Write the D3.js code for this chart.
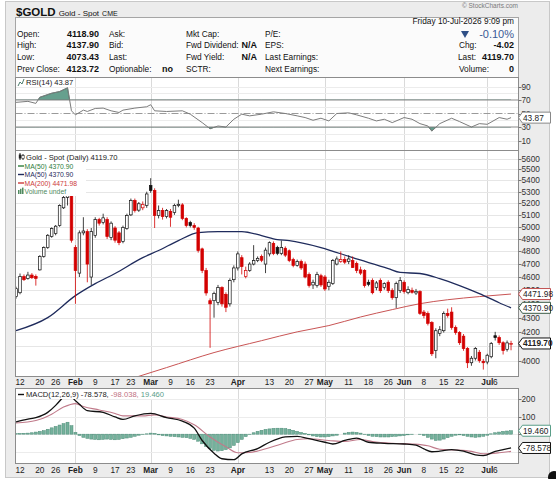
<!doctype html>
<html>
<head>
<meta charset="UTF-8">
<title>$GOLD Gold - Spot</title>
<script src="https://d3js.org/d3.v7.min.js"></script>
<style>
  body { margin: 0; background: #fff; }
  svg text { font-family: "Liberation Sans", Arial, sans-serif; }
</style>
</head>
<body>
<div id="chart"></div>
<script>
// ---- data ----
var firstDay = "2026-01-09", lastDay = "2026-07-10";
var holidays = ["2026-01-19", "2026-02-16", "2026-05-25", "2026-06-19", "2026-07-03"];

var opens = [4453,4482,4603,4590,4615,4605,4655,4760,4830,4920,
  4945,5010,5160,5250,5300,4830,4630,4950,4960,4600,
  4928,5060,5035,5060,4912,4990,4950,4880,4985,5100,
  5223,5140,5160,5180,5355,5311,5094,5137,5085,5130,
  5120,5180,5185,5070,5035,5010,4990,4820,4650,4423,
  4423,4410,4520,4470,4400,4580,4670,4750,4605,4650,
  4700,4727,4760,4700,4780,4863,4830,4783,4825,4805,
  4735,4690,4720,4700,4620,4540,4535,4610,4600,4530,
  4550,4700,4720,4735,4720,4727,4704,4655,4650,4560,
  4573,4520,4573,4520,4560,4500,4445,4497,4560,4482,
  4500,4480,4490,4340,4330,4265,4071,4190,4208,4330,
  4340,4230,4195,4170,4085,3990,4020,4060,4000,3995,
  4030,4173,4160,4125,4080,4118.9];
var highs = [4527,4627,4620,4640,4630,4620,4770,4840,4940,4995,
  5015,5190,5300,5590,5340,4850,4970,5080,4980,4990,
  5080,5075,5110,5080,5045,5005,4965,5010,5110,5240,
  5240,5210,5215,5300,5420,5330,5180,5160,5150,5150,
  5195,5230,5200,5080,5050,5030,5000,4830,4670,4440,
  4490,4540,4530,4485,4590,4690,4800,4770,4680,4715,
  4850,4760,4775,4830,4880,4880,4845,4887,4840,4815,
  4750,4735,4735,4720,4635,4580,4640,4625,4615,4580,
  4740,4760,4800,4760,4770,4760,4720,4680,4660,4580,
  4590,4570,4590,4560,4575,4515,4565,4600,4575,4530,
  4520,4510,4500,4355,4345,4275,4225,4240,4345,4365,
  4375,4245,4205,4185,4095,4035,4095,4075,4015,4050,
  4130,4200,4175,4135,4140,4137.9];
var lows = [4438,4470,4570,4580,4585,4535,4650,4750,4820,4910,
  4930,5000,5150,5180,4870,4400,4600,4930,4560,4540,
  4910,5010,5020,4900,4890,4870,4850,4865,4975,5090,
  5120,5125,5140,5160,5290,4990,5070,5060,5070,5000,
  5100,5165,5055,4995,4995,4975,4790,4630,4460,4090,
  4300,4390,4380,4340,4380,4560,4650,4620,4590,4640,
  4690,4715,4715,4630,4760,4770,4770,4770,4755,4715,
  4675,4680,4655,4590,4520,4510,4520,4525,4495,4500,
  4540,4690,4710,4700,4700,4670,4630,4615,4520,4530,
  4470,4500,4480,4505,4480,4430,4370,4480,4475,4470,
  4475,4465,4320,4295,4245,4035,4020,4170,4195,4300,
  4215,4180,4110,4070,3955,3970,4005,3990,3945,3980,
  4020,4140,4110,4045,4065,4073.43];
var closes = [4512,4603,4580,4615,4595,4590,4760,4830,4930,4985,
  5005,5180,5250,5380,4890,4650,4950,4965,4700,4960,
  5060,5030,5075,4920,5030,4890,4870,4995,5094,5223,
  5137,5195,5190,5280,5311,5094,5137,5085,5137,5080,
  5180,5190,5070,5010,5010,4995,4807,4650,4480,4400,
  4475,4520,4400,4375,4573,4670,4780,4680,4650,4700,
  4727,4745,4730,4810,4870,4783,4785,4830,4770,4727,
  4690,4720,4670,4600,4535,4560,4620,4540,4510,4560,
  4727,4740,4735,4715,4740,4673,4650,4630,4535,4545,
  4482,4555,4497,4550,4497,4445,4550,4573,4490,4505,
  4485,4492,4330,4315,4260,4050,4208,4215,4330,4315,
  4230,4195,4125,4085,3990,4020,4085,4004,3990,4040,
  4120,4160,4125,4071,4123.72,4119.7];

// moving averages, sampled (position in the trading-day list, value)
var ma50Days = [0,8,15,20,25,32,36,41,46,51,57,62,66,69,77,85,94,97,102,107,112,117,122,125];
var ma50Vals = [4208,4300,4460,4550,4627,4750,4807,4887,4952,4960,4960,4928,4895,4887,4831,4750,4665,4635,4627,4588,4535,4475,4408,4370.9];
var ma200Days = [30,38,50,62,71,79,87,95,102,109,117,125];
var ma200Vals = [3893,3958,4058,4139,4200,4244,4305,4358,4401,4430,4453,4471.98];

// RSI(14), sampled
var rsiDays = [0,3,5,6,9,11,13,14,15,17,18,20,22,24,26,27,30,33,34,35,38,42,44,47,49,51,53,55,57,59,62,65,68,71,73,75,77,79,81,84,86,89,91,93,95,98,100,102,104,105,107,110,112,115,117,119,122,124,125];
var rsiVals = [66.5,68,65,74,80,82.5,88,54,48,55,53,57.5,58,54,51.5,55,58,60,63,54,53,54,49,36.5,27.5,31.5,30,41.5,49,46.5,49,52.5,50,46.5,44,40,43,39,50,51,48,43,39,41.5,36.5,44,41.5,35,31.5,24,35,43,38,30,35,34,44,41.5,43.87];

// MACD(12,26,9), sampled lines + daily histogram
var macdDays = [0,3,5,8,10,12,13,14,16,18,22,25,27,30,34,38,42,45,47,50,52,55,57,61,64,68,71,74,78,80,83,86,89,93,98,101,103,105,107,110,113,116,118,121,123,125];
var macdVals = [70,85,94,124,164,214,240,214,170,134,124,98,84,104,118,94,74,34,-36,-108,-140,-145,-112,-82,-46,-16,-12,-26,-46,-56,-36,-22,-46,-52,-56,-62,-84,-100,-97,-88,-97,-118,-122,-98,-88,-78.578];
var signalDays = [0,5,9,12,15,17,21,25,27,32,35,38,42,45,49,53,56,59,62,67,71,74,79,83,87,90,95,100,104,107,111,115,118,122,125];
var signalVals = [64,78,114,154,174,158,138,118,104,104,110,98,84,54,-16,-72,-106,-104,-90,-56,-30,-26,-36,-42,-30,-42,-52,-56,-66,-86,-90,-98,-112,-106,-98.038];
var histVals = [3,4,5,6,8,12,16,20,28,36,44,52,60,68,48,10,-8,
  -18,-24,-28,-30,-32,-30,-28,-30,-32,-30,-26,-22,-18,-12,
  -6,-2,2,6,4,
  -4,-8,-10,-12,-14,-16,-18,-20,-24,-30,-40,-55,-70,-82,-92,-96,-94,-88,
  -78,-64,-48,-30,-14,-2,
  8,16,22,27,30,33,34,34,32,28,22,16,10,4,
  -4,-10,-14,-16,-16,-14,-10,-6,
  0,6,10,12,10,6,
  -2,-8,-12,-14,-16,-16,-16,-14,-12,-10,-8,
  -4,-2,0,-2,-8,
  -18,-28,-36,-34,-28,-20,
  -12,-6,-4,
  -8,-12,-16,-18,-16,-12,-6,
  2,8,12,16,18,19.46];

var tickDates = ["2026-01-12","2026-01-20","2026-01-26","2026-02-02","2026-02-09","2026-02-17","2026-02-23",
  "2026-03-02","2026-03-09","2026-03-16","2026-03-23","2026-04-01","2026-04-13","2026-04-20","2026-04-27",
  "2026-05-01","2026-05-11","2026-05-18","2026-05-26","2026-06-01","2026-06-08","2026-06-15","2026-06-22",
  "2026-07-01","2026-07-06"];
var tickLabels = ["12","20","26","Feb","9","17","23","Mar","9","16","23","Apr","13","20","27",
  "May","11","18","26","Jun","8","15","22","Jul","6"];
var priceTicks = d3.range(4000, 5601, 100);
var priceLabels = priceTicks.filter(function(v) { return v != 4100; }); // 4100 sits under the last-price tag
var rsiTicks = [10, 30, 50, 70, 90];
var macdTicks = [100, 200];

// ---- layout ----
var L = 15.5, R = 518.5;
var rsiTop = 77.5, rsiBot = 150.5, mainTop = 150.5, mainBot = 376.5, macdTop = 388.5, macdBot = 463.5;

var parse = d3.timeParse("%Y-%m-%d"), fmt = d3.timeFormat("%Y-%m-%d");
var days = d3.timeDay.range(parse(firstDay), d3.timeDay.offset(parse(lastDay), 1))
  .filter(function(d) { return d.getDay() != 0 && d.getDay() != 6 && holidays.indexOf(fmt(d)) < 0; });
var dayPos = {};
days.forEach(function(d, i) { dayPos[fmt(d)] = i; });

var x = d3.scaleLinear().domain([0, days.length - 1]).range([16.04, 16.04 + 3.96 * (days.length - 1)]);
var py = d3.scaleLog().domain([3900, 5675]).range([mainBot, mainTop]);
var ry = d3.scaleLinear().domain([0, 100]).range([147.25, 79.75]);
var my = d3.scaleLinear().domain([-167, 260]).range([macdBot, macdTop]);

var monthTicks = tickDates.filter(function(d, i) { return /^[A-Z]/.test(tickLabels[i]); });

var svg = d3.select("#chart").append("svg")
  .attr("width", 556).attr("height", 479).style("display", "block");

svg.append("rect").attr("width", 556).attr("height", 479).attr("fill", "#fff");
svg.append("rect").attr("x", 5.5).attr("y", 1.5).attr("width", 544).attr("height", 476)
  .attr("fill", "#ececec").attr("stroke", "#c8c8c8");

var defs = svg.append("defs");
function clip(id, y0, y1) {
  defs.append("clipPath").attr("id", id).append("rect")
    .attr("x", L).attr("y", y0).attr("width", R - L).attr("height", y1 - y0);
}
clip("cRsi", rsiTop, rsiBot);
clip("cMain", mainTop, mainBot);
clip("cMacd", macdTop, macdBot);
defs.append("clipPath").attr("id", "cOver").append("rect")
  .attr("x", L).attr("y", rsiTop).attr("width", R - L).attr("height", ry(70) - rsiTop);
defs.append("clipPath").attr("id", "cUnder").append("rect")
  .attr("x", L).attr("y", ry(30)).attr("width", R - L).attr("height", rsiBot - ry(30));

// ---- header ----
svg.append("text").attr("x", 518).attr("y", 8).attr("text-anchor", "end")
  .attr("font-size", 6.5).attr("fill", "#7a7a7a").text("\u00a9 StockCharts.com");

var title = svg.append("text").attr("x", 16).attr("y", 16).attr("fill", "#111");
title.append("tspan").attr("font-size", 11.5).attr("font-weight", "bold").text("$GOLD");
title.append("tspan").attr("font-size", 8).attr("dx", 3).text("Gold - Spot");
title.append("tspan").attr("font-size", 7).attr("dx", 3).text("CME");

svg.append("rect").attr("x", L).attr("y", 17.5).attr("width", R - L).attr("height", 60)
  .attr("fill", "#fbfbfb").attr("stroke", "#a5a5a5");

var rowY = [36.5, 48, 60, 72];
function label(xp, yp, txt, anchor, bold, size) {
  svg.append("text").attr("x", xp).attr("y", yp).attr("text-anchor", anchor || "start")
    .attr("font-size", size || 8.3).attr("font-weight", bold ? "bold" : "normal")
    .attr("fill", "#111").text(txt);
}
["Open:", "High:", "Low:", "Prev Close:"].forEach(function(t, i) { label(17, rowY[i], t); });
["4118.90", "4137.90", "4073.43", "4123.72"].forEach(function(t, i) { label(99, rowY[i], t, "end", true, 9); });
["Ask:", "Bid:", "Last:", "Optionable:"].forEach(function(t, i) { label(109, rowY[i], t); });
label(173, rowY[3], "no", "end", true, 9);
["Mkt Cap:", "Fwd Dividend:", "Fwd Yield:", "SCTR:"].forEach(function(t, i) { label(186, rowY[i], t); });
label(257, rowY[1], "N/A", "end", true, 9);
label(257, rowY[2], "N/A", "end", true, 9);
["P/E:", "EPS:", "Last Earnings:", "Next Earnings:"].forEach(function(t, i) { label(265, rowY[i], t); });

label(514, 24, "Friday  10-Jul-2026  9:09 pm", "end", false, 8.3);
svg.append("path").attr("d", "M461,31 L469,31 L465,38 Z").attr("fill", "#2f4f86");
svg.append("text").attr("x", 514).attr("y", 38).attr("text-anchor", "end")
  .attr("font-size", 11).attr("fill", "#3a5a96").text("-0.10%");
label(459, rowY[1], "Chg:");
label(514, rowY[1], "-4.02", "end", true, 9);
label(458, rowY[2], "Last:");
label(514, rowY[2], "4119.70", "end", true, 9);
label(459, rowY[3], "Volume:");
label(514, rowY[3], "0", "end", true, 9);

// ---- helpers ----
function panel(y0, y1) {
  svg.append("rect").attr("x", L).attr("y", y0).attr("width", R - L).attr("height", y1 - y0).attr("fill", "#fff");
  svg.append("g").selectAll("line").data(monthTicks).enter().append("line")
    .attr("x1", function(d) { return Math.round(x(dayPos[d])) + 0.5; })
    .attr("x2", function(d) { return Math.round(x(dayPos[d])) + 0.5; })
    .attr("y1", y0).attr("y2", y1).attr("stroke", "#dadada");
}
function hgrid(vals, scale, color) {
  svg.append("g").selectAll("line").data(vals).enter().append("line")
    .attr("x1", L).attr("x2", R)
    .attr("y1", function(d) { return Math.round(scale(d)) + 0.5; })
    .attr("y2", function(d) { return Math.round(scale(d)) + 0.5; })
    .attr("stroke", color);
}
function border(y0, y1) {
  svg.append("rect").attr("x", L).attr("y", y0).attr("width", R - L).attr("height", y1 - y0)
    .attr("fill", "none").attr("stroke", "#8c8c8c");
}
function axisLabels(ticks, labels, scale) {
  var g = svg.append("g");
  g.selectAll("line").data(ticks).enter().append("line")
    .attr("x1", R).attr("x2", R + 3)
    .attr("y1", function(d) { return Math.round(scale(d)) + 0.5; })
    .attr("y2", function(d) { return Math.round(scale(d)) + 0.5; })
    .attr("stroke", "#777");
  g.selectAll("text").data(labels).enter().append("text")
    .attr("x", R + 3).attr("y", function(d) { return scale(d) + 3; })
    .attr("font-size", 8.3).attr("fill", "#333").text(function(d) { return d; });
}
function valueTag(yp, txt, stroke, bold) {
  var g = svg.append("g").attr("transform", "translate(" + R + "," + yp + ")");
  g.append("path").attr("d", "M0,0L4,-5.5H32V5.5H4Z").attr("fill", "#fff").attr("stroke", stroke);
  g.append("text").attr("x", 4.5).attr("y", 3).attr("font-size", 8.3)
    .attr("font-weight", bold ? "bold" : "normal").attr("fill", "#222").text(txt);
}
function dateAxis(yp) {
  svg.append("g").selectAll("text").data(tickDates).enter().append("text")
    .attr("x", function(d) { return x(dayPos[d]); }).attr("y", yp)
    .attr("text-anchor", "middle").attr("font-size", 8.3).attr("fill", "#222")
    .attr("font-weight", function(d, i) { return /^[A-Z]/.test(tickLabels[i]) ? "bold" : "normal"; })
    .text(function(d, i) { return tickLabels[i]; });
}
function sampled(daysArr, vals) {
  return daysArr.map(function(d, i) { return [d, vals[i]]; });
}

// ---- RSI panel ----
panel(rsiTop, rsiBot);
hgrid([10, 20, 40, 60, 80, 90], ry, "#ececec");
var rsiPts = sampled(rsiDays, rsiVals);
var rsiLine = d3.line().x(function(d) { return x(d[0]); }).y(function(d) { return ry(d[1]); });
var gR = svg.append("g").attr("clip-path", "url(#cRsi)");
gR.append("path").datum(rsiPts).attr("clip-path", "url(#cOver)")
  .attr("d", d3.area().x(function(d) { return x(d[0]); }).y0(ry(70)).y1(function(d) { return ry(d[1]); }))
  .attr("fill", "#66a08e").attr("stroke", "#3e7464").attr("stroke-width", 0.8);
gR.append("path").datum(rsiPts).attr("clip-path", "url(#cUnder)")
  .attr("d", d3.area().x(function(d) { return x(d[0]); }).y0(ry(30)).y1(function(d) { return ry(d[1]); }))
  .attr("fill", "#66a08e").attr("stroke", "#3e7464").attr("stroke-width", 0.8);
[70, 30].forEach(function(v) {
  gR.append("line").attr("x1", L).attr("x2", R).attr("y1", ry(v)).attr("y2", ry(v))
    .attr("stroke", "#8a8a8a").attr("stroke-width", 1.2);
});
gR.append("line").attr("x1", L).attr("x2", R).attr("y1", ry(50)).attr("y2", ry(50))
  .attr("stroke", "#9a9a9a").attr("stroke-dasharray", "7,2,1,2");
gR.append("path").datum(rsiPts).attr("d", rsiLine)
  .attr("fill", "none").attr("stroke", "#7c7c7c").attr("stroke-width", 1);
svg.append("path").attr("d", "M18,86 L20,82 L22,84 L24,79").attr("fill", "none").attr("stroke", "#4d7d6d");
svg.append("text").attr("x", 26).attr("y", 85).attr("font-family", "DejaVu Sans Mono")
  .attr("font-size", 7.6).attr("fill", "#222").text("RSI(14) 43.87");
border(rsiTop, rsiBot);
axisLabels(rsiTicks, rsiTicks, ry);
valueTag(ry(43.87), "43.87", "#888", false);

// ---- price panel ----
panel(mainTop, mainBot);
hgrid(priceTicks, py, "#e6e6e6");
var gM = svg.append("g").attr("clip-path", "url(#cMain)");
var maLine = d3.line().curve(d3.curveMonotoneX)
  .x(function(d) { return x(d[0]); }).y(function(d) { return py(d[1]); });
gM.append("path").datum(sampled(ma200Days, ma200Vals)).attr("d", maLine)
  .attr("fill", "none").attr("stroke", "#c85454").attr("stroke-width", 1);
gM.append("path").datum(sampled(ma50Days, ma50Vals)).attr("d", maLine)
  .attr("fill", "none").attr("stroke", "#1f2b5c").attr("stroke-width", 1.3);

function candleColor(i) {
  var prev = i > 0 ? closes[i - 1] : opens[i];
  return closes[i] >= prev ? "#111" : "#d30000";
}
var cg = gM.selectAll("g.candle").data(d3.range(opens.length)).enter().append("g");
cg.append("line")
  .attr("x1", function(i) { return x(i); }).attr("x2", function(i) { return x(i); })
  .attr("y1", function(i) { return py(highs[i]); }).attr("y2", function(i) { return py(lows[i]); })
  .attr("stroke", candleColor).attr("stroke-width", 0.8);
cg.append("rect")
  .attr("x", function(i) { return x(i) - 1.3; }).attr("width", 2.6)
  .attr("y", function(i) { return py(Math.max(opens[i], closes[i])); })
  .attr("height", function(i) { return Math.max(0.8, py(Math.min(opens[i], closes[i])) - py(Math.max(opens[i], closes[i]))); })
  .attr("fill", function(i) { return closes[i] >= opens[i] ? "#fff" : candleColor(i); })
  .attr("stroke", candleColor).attr("stroke-width", 0.7);

// legend
svg.append("rect").attr("x", L + 0.5).attr("y", mainTop + 0.5).attr("width", 70).attr("height", 45).attr("fill", "#fff");
svg.append("line").attr("x1", 20).attr("x2", 20).attr("y1", 153).attr("y2", 160).attr("stroke", "#222");
svg.append("rect").attr("x", 18.8).attr("y", 154.5).attr("width", 2.4).attr("height", 4).attr("fill", "#222");
svg.append("line").attr("x1", 23).attr("x2", 23).attr("y1", 154).attr("y2", 160).attr("stroke", "#222");
svg.append("rect").attr("x", 21.8).attr("y", 155.5).attr("width", 2.4).attr("height", 3).attr("fill", "#fff").attr("stroke", "#222").attr("stroke-width", 0.6);
svg.append("text").attr("x", 26).attr("y", 160).attr("font-family", "DejaVu Sans Mono")
  .attr("font-size", 7.6).attr("fill", "#222").text("Gold - Spot (Daily) 4119.70");
var legendRows = [["MA(50) 4370.90", "#2e7d3c"], ["MA(50) 4370.90", "#1f2b5c"], ["MA(200) 4471.98", "#cc3a3a"]];
legendRows.forEach(function(r, i) {
  var yy = 168.5 + i * 8.5;
  svg.append("line").attr("x1", 18).attr("x2", 24).attr("y1", yy - 2.5).attr("y2", yy - 2.5)
    .attr("stroke", r[1]).attr("stroke-width", 1.4);
  svg.append("text").attr("x", 24.5).attr("y", yy).attr("font-family", "DejaVu Sans")
    .attr("font-size", 6.8).attr("fill", r[1]).text(r[0]);
});
[0, 1, 2].forEach(function(k) {
  svg.append("rect").attr("x", 18 + k * 2).attr("y", 190 - k * 1.2).attr("width", 1.5).attr("height", 4 + k * 1.2).attr("fill", "#4f8a5e");
});
svg.append("text").attr("x", 24.5).attr("y", 194).attr("font-family", "DejaVu Sans")
  .attr("font-size", 6.8).attr("fill", "#4f8a5e").text("Volume undef");
border(mainTop, mainBot);
axisLabels(priceTicks, priceLabels, py);
valueTag(py(4471.98), "4471.98", "#c05050", false);
valueTag(py(4370.9), "4370.90", "#3c5c48", false);
valueTag(py(4119.7), "4119.70", "#111", true);

dateAxis(385);

// ---- MACD panel ----
panel(macdTop, macdBot);
hgrid([-100, 0, 100, 200], my, "#ececec");
var gD = svg.append("g").attr("clip-path", "url(#cMacd)");
gD.selectAll("rect").data(histVals).enter().append("rect")
  .attr("x", function(v, i) { return x(i) - 1.5; }).attr("width", 3)
  .attr("y", function(v) { return Math.min(my(0), my(v)); })
  .attr("height", function(v) { return Math.abs(my(v) - my(0)); })
  .attr("fill", "#74b19c").attr("stroke", "#4a8a75").attr("stroke-width", 0.5);
var macdLine = d3.line().curve(d3.curveMonotoneX)
  .x(function(d) { return x(d[0]); }).y(function(d) { return my(d[1]); });
gD.append("path").datum(sampled(signalDays, signalVals)).attr("d", macdLine)
  .attr("fill", "none").attr("stroke", "#c07a8a").attr("stroke-width", 1.1);
gD.append("path").datum(sampled(macdDays, macdVals)).attr("d", macdLine)
  .attr("fill", "none").attr("stroke", "#111").attr("stroke-width", 1.3);
svg.append("rect").attr("x", L + 0.5).attr("y", macdTop + 0.5).attr("width", 196).attr("height", 10).attr("fill", "#fff");
svg.append("line").attr("x1", 18).attr("x2", 24).attr("y1", 394.5).attr("y2", 394.5).attr("stroke", "#111").attr("stroke-width", 1.4);
var mt = svg.append("text").attr("x", 26).attr("y", 397).attr("font-family", "DejaVu Sans Mono").attr("font-size", 7.6);
mt.append("tspan").attr("fill", "#222").text("MACD(12,26,9) -78.578, ");
mt.append("tspan").attr("fill", "#c0707e").text("-98.038, ");
mt.append("tspan").attr("fill", "#5a9e88").text("19.460");
border(macdTop, macdBot);
axisLabels([-100, 0, 100, 200], macdTicks, my);
valueTag(my(19.46), "19.460", "#5a9e88", false);
valueTag(my(-78.578), "-78.578", "#111", false);

dateAxis(473);

svg.append("circle").attr("cx", 554).attr("cy", 477).attr("r", 6).attr("fill", "#111");
</script>
</body>
</html>
